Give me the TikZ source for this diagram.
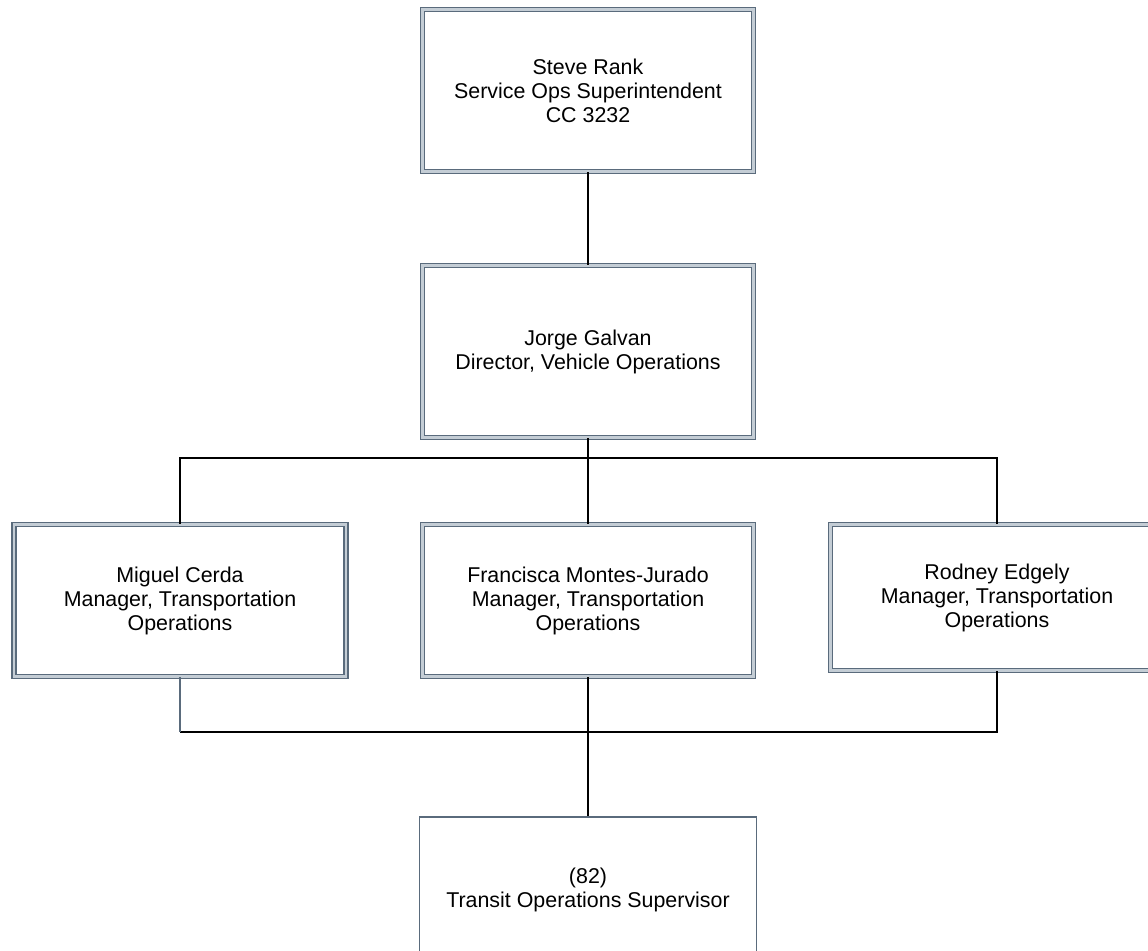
\documentclass[tikz,border=0pt]{standalone}
\usepackage{fontspec}
\setmainfont{Liberation Sans}
\definecolor{slate}{HTML}{5A6B7C}
\definecolor{slatelight}{HTML}{C4CDD5}
\begin{document}
\begin{tikzpicture}[x=1pt,y=-1pt,
  box/.style={draw=slate, line width=1.3pt, double=slatelight, double distance=2.6pt,
    rectangle, align=center, inner sep=0pt, font=\fontsize{21.4}{24}\selectfont},
  plainbox/.style={draw=slate, line width=1.3pt, rectangle, align=center, inner sep=0pt,
    font=\fontsize{21.4}{24}\selectfont},
  conn/.style={draw=black, line width=2pt},
  sconn/.style={draw=slate, line width=2pt}]
\useasboundingbox (0,0) rectangle (1148,950);
\fill[white] (0,0) rectangle (1148,950);
\node[box, minimum width=331pt, minimum height=162pt] (rank) at (588,90.5)
  {Steve Rank\\Service Ops Superintendent\\CC 3232};
\node[box, minimum width=331pt, minimum height=172pt] (galvan) at (588,351.5)
  {Jorge Galvan\\Director, Vehicle Operations};
\node[box, minimum width=332pt, minimum height=152pt] (cerda) at (180,600.5)
  {Miguel Cerda\\Manager, Transportation\\Operations};
\node[box, minimum width=331pt, minimum height=152pt] (montes) at (588,600.5)
  {Francisca Montes-Jurado\\Manager, Transportation\\Operations};
\node[box, minimum width=333pt, minimum height=146pt] (edgely) at (997,597.5)
  {Rodney Edgely\\Manager, Transportation\\Operations};
\node[plainbox, minimum width=337pt, minimum height=146pt] (tos) at (588,890)
  {(82)\\Transit Operations Supervisor};
\coordinate (bar1) at (588,458);
\coordinate (bar2) at (588,732);
\draw[conn] (rank.south) -- (galvan.north);
\draw[conn] (galvan.south) -- (bar1);
\draw[conn] (cerda.north) |- (bar1) -| (edgely.north);
\draw[conn] (bar1) -- (montes.north);
\draw[conn] (cerda.south |- bar2) -- (bar2) -| (edgely.south);
\draw[sconn] (cerda.south) -- (cerda.south |- bar2);
\draw[conn] (montes.south) -- (bar2);
\draw[conn] (bar2) -- (tos.north);
\end{tikzpicture}
\end{document}
